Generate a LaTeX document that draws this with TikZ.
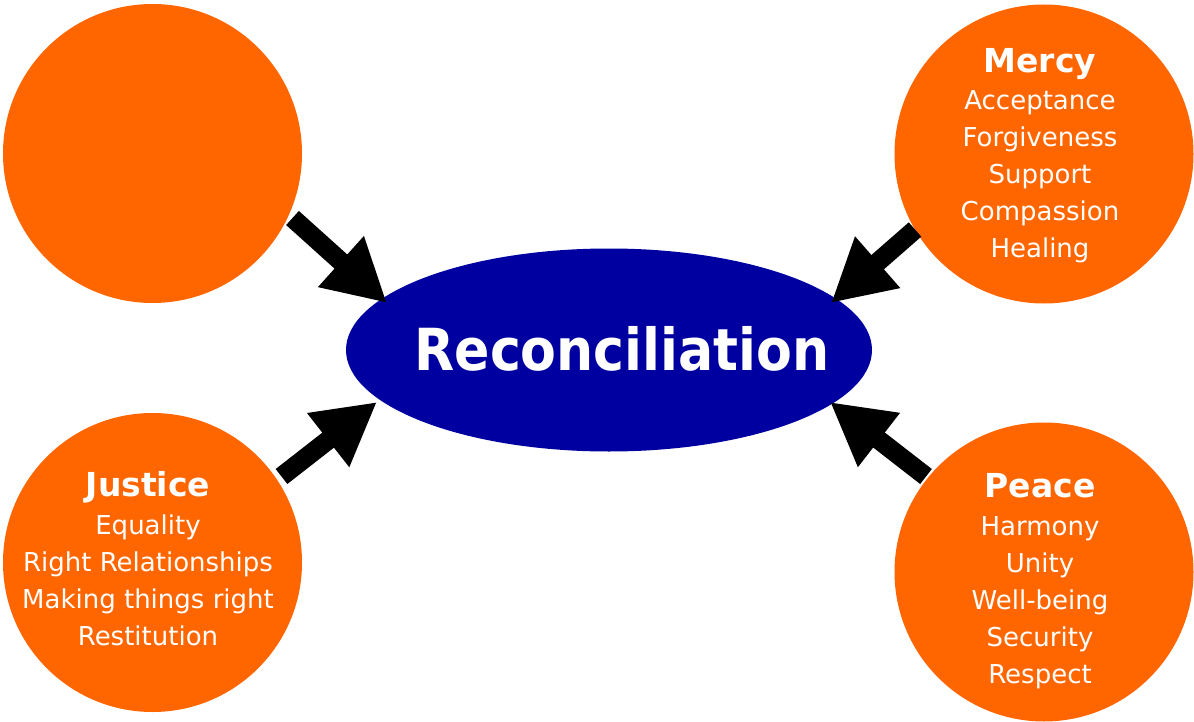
\documentclass[tikz,border=0pt]{standalone}
\usepackage{fontspec}
\setmainfont{DejaVu Sans}
\newfontfamily\condfont{DejaVu Sans Condensed}
\usetikzlibrary{arrows.meta,shapes.geometric}
\definecolor{orng}{RGB}{255,102,0}
\definecolor{navy}{RGB}{0,0,160}
\tikzset{
  bubble/.style={circle,fill=orng,draw=none,minimum size=299pt,inner sep=0pt},
  hub/.style={ellipse,fill=navy,draw=none,minimum width=526pt,minimum height=203pt,inner sep=0pt},
  title/.style={text=white,anchor=base,inner sep=0pt,font=\bfseries\fontsize{33}{36}\selectfont},
  item/.style={text=white,anchor=base,inner sep=0pt,font=\fontsize{26}{30}\selectfont},
  hubtext/.style={text=white,anchor=base,inner sep=0pt,font=\condfont\bfseries\fontsize{58}{64}\selectfont},
  fat/.style={line width=19pt,-{Triangle[length=62pt,width=64pt]}}
}
\begin{document}
\begin{tikzpicture}[x=1pt,y=-1pt]
\useasboundingbox (0,0) rectangle (1194,722);
% circles
\node[bubble] (tl) at (152.5,153.5) {};
\node[bubble] (tr) at (1044,154) {};
\node[bubble] (bl) at (152.5,562.5) {};
\node[bubble] (br) at (1044,572) {};
\node[hub] (rec) at (609,350) {};
\node[hubtext] (rect) at (622,370) {Reconciliation};
% Mercy
\node[title] (mercy) at (1040,73) {Mercy};
\foreach \t [count=\i] in {Acceptance,Forgiveness,Support,Compassion,Healing}
  \node[item] (m\i) at (1040,73+37*\i) {\t};
% Justice
\node[title] (justice) at (148,496) {Justice};
\foreach \t [count=\i] in {Equality,Right Relationships,Making things right,Restitution}
  \node[item] (j\i) at (148,497+37*\i) {\t};
% Peace
\node[title] (peace) at (1040,497) {Peace};
\foreach \t [count=\i] in {Harmony,Unity,Well-being,Security,Respect}
  \node[item] (p\i) at (1040,498+37*\i) {\t};
% arrow ends
\coordinate (tla) at (292.5,218);  \coordinate (tlb) at (387,303);
\coordinate (tra) at (915,229.5);  \coordinate (trb) at (831,303);
\coordinate (bla) at (281.5,476.5); \coordinate (blb) at (377,402);
\coordinate (bra) at (926,476.5);  \coordinate (brb) at (830,402);
\draw[fat] (tla) -- (tlb);
\draw[fat] (tra) -- (trb);
\draw[fat] (bla) -- (blb);
\draw[fat] (bra) -- (brb);
\end{tikzpicture}
\end{document}
